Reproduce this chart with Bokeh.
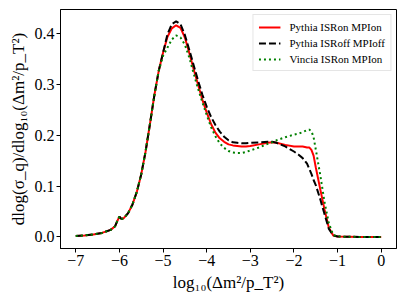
from bokeh.plotting import figure
from bokeh.models import Range1d, FixedTicker, Legend, LegendItem, PrintfTickFormatter
from bokeh.embed import file_html
from bokeh.resources import INLINE

# shared x grid: log10(dm^2/pT^2)
x = [-7.0, -6.8, -6.6, -6.4, -6.2, -6.1, -6.05, -6.0, -5.95, -5.9,
     -5.8, -5.7, -5.6, -5.5, -5.4, -5.3, -5.2, -5.1, -5.0,
     -4.9, -4.8, -4.7, -4.6, -4.5, -4.4, -4.3, -4.2, -4.1, -4.0,
     -3.9, -3.8, -3.7, -3.6, -3.5, -3.4, -3.3, -3.2, -3.1, -3.0,
     -2.8, -2.6, -2.5, -2.4, -2.2, -2.0, -1.9, -1.8, -1.7, -1.65,
     -1.6, -1.55, -1.5, -1.4, -1.3, -1.2, -1.1, -1.0, -0.5, 0.0]

# common low part (x <= -5.0)
common = [0.002, 0.003, 0.005, 0.008, 0.014, 0.021, 0.031, 0.040, 0.035, 0.037,
          0.047, 0.064, 0.089, 0.123, 0.168, 0.222, 0.278, 0.326, 0.362]

pythia_on_tail = [0.393, 0.410, 0.416, 0.411, 0.392, 0.362, 0.330, 0.300, 0.270, 0.245,
                  0.222, 0.205, 0.194, 0.187, 0.182, 0.180, 0.179, 0.178, 0.178, 0.179,
                  0.182, 0.185, 0.186, 0.185, 0.181, 0.178, 0.178, 0.178, 0.176, 0.176,
                  0.171, 0.160, 0.137, 0.095, 0.054, 0.018, 0.003, 0.001, 0.0, 0.0]

pythia_off_tail = [0.398, 0.418, 0.424, 0.418, 0.397, 0.368, 0.338, 0.308, 0.280, 0.256,
                   0.236, 0.220, 0.207, 0.197, 0.190, 0.186, 0.185, 0.184, 0.184, 0.185,
                   0.186, 0.187, 0.187, 0.185, 0.178, 0.168, 0.162, 0.155, 0.144, 0.134,
                   0.124, 0.112, 0.102, 0.075, 0.045, 0.016, 0.003, 0.001, 0.0, 0.0]

vincia_tail = [0.372, 0.388, 0.396, 0.392, 0.378, 0.353, 0.322, 0.292, 0.265, 0.240,
               0.216, 0.198, 0.184, 0.175, 0.169, 0.166, 0.165, 0.165, 0.167, 0.170,
               0.176, 0.183, 0.186, 0.190, 0.196, 0.201, 0.203, 0.206, 0.210, 0.211,
               0.208, 0.196, 0.172, 0.123, 0.069, 0.027, 0.004, 0.001, 0.0, 0.0]

pythia_on = common + pythia_on_tail
pythia_off = common + pythia_off_tail
vincia = common[:-1] + [0.356] + vincia_tail

labels = ["Pythia ISRon MPIon", "Pythia ISRoff MPIoff", "Vincia ISRon MPIon"]
x_ticks = [-7, -6, -5, -4, -3, -2, -1, 0]
y_ticks = [0.0, 0.1, 0.2, 0.3, 0.4]

FONT = "Liberation Serif"

p = figure(width=404, height=300, output_backend="svg", toolbar_location=None,
           x_range=Range1d(-7.35, 0.35), y_range=Range1d(-0.0226, 0.447),
           min_border_left=60, min_border_right=8, min_border_top=9, min_border_bottom=52)

p.xgrid.visible = False
p.ygrid.visible = False
p.outline_line_color = "black"
p.outline_line_width = 1
p.outline_line_alpha = 1

r1 = p.line(x, pythia_on, line_color="red", line_width=2)
r2 = p.line(x, pythia_off, line_color="black", line_width=2, line_dash="7 3")
r3 = p.line(x, vincia, line_color="green", line_width=2, line_dash="2 3")

for ax in (p.xaxis[0], p.yaxis[0]):
    ax.axis_line_color = "black"
    ax.major_tick_line_color = "black"
    ax.minor_tick_line_color = None
    ax.major_tick_out = 4
    ax.major_tick_in = 0
    ax.major_label_standoff = 2
    ax.major_label_text_font = FONT
    ax.major_label_text_font_size = "16px"
    ax.major_label_text_color = "black"
    ax.axis_label_text_font = FONT
    ax.axis_label_text_font_size = "17px"
    ax.axis_label_text_font_style = "normal"
    ax.axis_label_text_color = "black"
    ax.axis_label_standoff = 4

p.xaxis.ticker = FixedTicker(ticks=x_ticks)
p.xaxis.major_label_overrides = {t: ("\u2212" + str(-t) if t < 0 else str(t)) for t in x_ticks}
p.yaxis.ticker = FixedTicker(ticks=y_ticks)
p.yaxis.formatter = PrintfTickFormatter(format="%.1f")

p.xaxis.axis_label = "log\u2081\u2080(\u0394m\u00b2/p_T\u00b2)"
p.yaxis.axis_label = "dlog(\u03c3_q)/dlog\u2081\u2080(\u0394m\u00b2/p_T\u00b2)"

legend = Legend(items=[LegendItem(label=labels[0], renderers=[r1]),
                       LegendItem(label=labels[1], renderers=[r2]),
                       LegendItem(label=labels[2], renderers=[r3])],
                location="top_right")
legend.margin = 5
legend.padding = 5
legend.spacing = 3
legend.glyph_width = 22
legend.glyph_height = 12
legend.label_height = 13
legend.label_standoff = 9
legend.label_text_font = FONT
legend.label_text_font_size = "11px"
legend.label_text_color = "black"
legend.border_line_color = "#cccccc"
legend.border_line_width = 1
legend.background_fill_color = "white"
legend.background_fill_alpha = 0.8
p.add_layout(legend)

open("out.html", "w").write(file_html(p, INLINE))
